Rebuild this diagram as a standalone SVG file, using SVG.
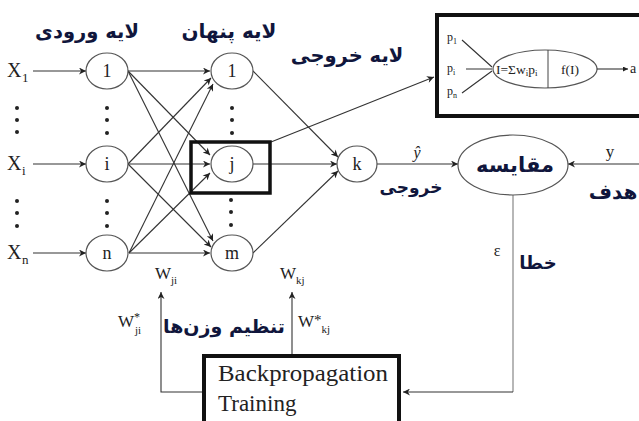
<svg xmlns="http://www.w3.org/2000/svg" width="639" height="421" viewBox="0 0 639 421">
<style>
.ser{font-family:"Liberation Serif","Times New Roman",serif;fill:#222}
.fa{font-family:"DejaVu Sans",sans-serif;font-weight:bold;fill:#10163c;direction:rtl}
.nd{fill:#fff;stroke:#555;stroke-width:1.2}
.ln{stroke:#333;stroke-width:1.1;fill:none}
.bx{fill:none;stroke:#111}
</style>
<defs>
<marker id="ah" viewBox="0 0 10 10" refX="10" refY="5" markerWidth="9" markerHeight="7" markerUnits="userSpaceOnUse" orient="auto">
<path d="M0,0 L10,5 L0,10 L3,5 Z" fill="#222"/>
</marker>
<marker id="as" viewBox="0 0 10 10" refX="10" refY="5" markerWidth="6" markerHeight="5" markerUnits="userSpaceOnUse" orient="auto">
<path d="M0,0 L10,5 L0,10 Z" fill="#222"/>
</marker>
</defs>
<rect width="639" height="421" fill="#fff"/>

<g id="connectors">
<path class="ln" d="M33,71 L86,71" marker-end="url(#ah)"/>
<path class="ln" d="M33,164 L86,164" marker-end="url(#ah)"/>
<path class="ln" d="M33,253 L86,253" marker-end="url(#ah)"/>
<path class="ln" d="M128,71 L210,71" marker-end="url(#ah)"/>
<path class="ln" d="M128,164 L211,78" marker-end="url(#ah)"/>
<path class="ln" d="M129,253 L213,84" marker-end="url(#ah)"/>
<path class="ln" d="M128,71 L210,155" marker-end="url(#ah)"/>
<path class="ln" d="M128,164 L210,164" marker-end="url(#ah)"/>
<path class="ln" d="M129,253 L210,173" marker-end="url(#ah)"/>
<path class="ln" d="M128,71 L213,241" marker-end="url(#ah)"/>
<path class="ln" d="M128,164 L211,247" marker-end="url(#ah)"/>
<path class="ln" d="M129,253 L210,253" marker-end="url(#ah)"/>
<path class="ln" d="M253,71 L338,157" marker-end="url(#ah)"/>
<path class="ln" d="M253,164 L337,164" marker-end="url(#ah)"/>
<path class="ln" d="M253,253 L338,171" marker-end="url(#ah)"/>
<path class="ln" d="M377,164 L458,164" marker-end="url(#ah)"/>
<path class="ln" d="M641,164 L568,164" marker-end="url(#ah)"/>
<path class="ln" d="M271,142 L434,77" marker-end="url(#ah)"/>
<path d="M513,195 L513,392" stroke="#999" stroke-width="1.4" fill="none"/>
<path class="ln" d="M513,392 L403,392" marker-end="url(#ah)"/>
<path class="ln" d="M204,392 L161,392 L161,292" marker-end="url(#ah)"/>
<path class="ln" d="M292,356 L292,292" marker-end="url(#ah)"/>
</g>

<g id="input-labels">
<text class="ser" x="7" y="77" font-size="20">X</text><text class="ser" x="22" y="82" font-size="13">1</text>
<text class="ser" x="7" y="170" font-size="20">X</text><text class="ser" x="22" y="175" font-size="13">i</text>
<text class="ser" x="7" y="259" font-size="20">X</text><text class="ser" x="22" y="264" font-size="13">n</text>
</g>

<g id="dots" fill="#222">
<circle cx="17" cy="108" r="2"/><circle cx="17" cy="120" r="2"/><circle cx="17" cy="132" r="2"/>
<circle cx="17" cy="201" r="2"/><circle cx="17" cy="213" r="2"/><circle cx="17" cy="226" r="2"/>
<circle cx="107" cy="108" r="2"/><circle cx="107" cy="120" r="2"/><circle cx="107" cy="133" r="2"/>
<circle cx="107" cy="201" r="2"/><circle cx="107" cy="213" r="2"/><circle cx="107" cy="226" r="2"/>
<circle cx="232" cy="108" r="2"/><circle cx="232" cy="120" r="2"/><circle cx="232" cy="133" r="2"/>
<circle cx="231" cy="200" r="2"/><circle cx="231" cy="212" r="2"/><circle cx="231" cy="225" r="2"/>
</g>

<g id="node-in1"><ellipse class="nd" cx="107" cy="71" rx="21" ry="18"/><text class="ser" x="107" y="77" font-size="18" text-anchor="middle">1</text></g>
<g id="node-ini"><ellipse class="nd" cx="107" cy="164" rx="21" ry="18"/><text class="ser" x="107" y="170" font-size="18" text-anchor="middle">i</text></g>
<g id="node-inn"><ellipse class="nd" cx="107" cy="253" rx="21" ry="18"/><text class="ser" x="107" y="259" font-size="18" text-anchor="middle">n</text></g>
<g id="node-h1"><ellipse class="nd" cx="232" cy="71" rx="21" ry="18"/><text class="ser" x="232" y="77" font-size="18" text-anchor="middle">1</text></g>
<g id="node-hj"><ellipse class="nd" cx="232" cy="164" rx="21" ry="18"/><text class="ser" x="232" y="170" font-size="18" text-anchor="middle">j</text></g>
<g id="node-hm"><ellipse class="nd" cx="232" cy="253" rx="21" ry="18"/><text class="ser" x="232" y="259" font-size="18" text-anchor="middle">m</text></g>
<g id="node-k"><ellipse class="nd" cx="357" cy="164" rx="20" ry="18"/><text class="ser" x="357" y="170" font-size="18" text-anchor="middle">k</text></g>

<g id="highlight-j"><rect class="bx" x="191" y="142" width="79" height="51" stroke-width="3.5"/></g>

<g id="node-compare"><ellipse class="nd" cx="513" cy="165" rx="55" ry="30"/><text class="fa" x="515" y="172" font-size="21" text-anchor="middle">مقایسه</text></g>

<g id="inset">
<rect class="bx" x="437" y="15" width="206" height="101" stroke-width="4"/>
<path class="ln" d="M462,40 L492,67 M466,69 L492,69 M462,93 L492,71" stroke-width="0.9"/>
<ellipse class="nd" cx="545" cy="69" rx="52" ry="19" stroke="#444"/>
<path d="M548,50 L548,88" stroke="#444" stroke-width="1"/>
<path class="ln" d="M597,69 L628,69" stroke-width="0.9" marker-end="url(#as)"/>
<text class="ser" x="447" y="41" font-size="12">p<tspan font-size="8" dy="3">1</tspan></text>
<text class="ser" x="447" y="72" font-size="12">p<tspan font-size="8" dy="3">i</tspan></text>
<text class="ser" x="447" y="95" font-size="12">p<tspan font-size="8" dy="3">n</tspan></text>
<text class="ser" x="496" y="74" font-size="13.5">I=Σw<tspan font-size="9" dy="2">i</tspan><tspan dy="-2">p</tspan><tspan font-size="9" dy="2">i</tspan></text>
<text class="ser" x="570" y="74" font-size="13.5" text-anchor="middle">f(I)</text>
<text class="ser" x="630" y="73" font-size="14">a</text>
</g>

<g id="backprop">
<rect class="bx" x="204" y="356" width="195" height="75" stroke-width="4"/>
<text class="ser" x="218" y="381" font-size="23" textLength="170" lengthAdjust="spacingAndGlyphs">Backpropagation</text>
<text class="ser" x="218" y="411" font-size="23">Training</text>
</g>

<g id="labels">
<text class="fa" x="87" y="38" font-size="19.5" text-anchor="middle">لایه ورودی</text>
<text class="fa" x="229" y="38" font-size="20" text-anchor="middle">لایه پنهان</text>
<text class="fa" x="347" y="62" font-size="19.5" text-anchor="middle">لایه خروجی</text>
<text class="fa" x="411" y="193" font-size="17" text-anchor="middle">خروجی</text>
<text class="fa" x="613" y="199" font-size="20" text-anchor="middle">هدف</text>
<text class="fa" x="538" y="269" font-size="18" text-anchor="middle">خطا</text>
<text class="fa" x="224" y="333" font-size="19" text-anchor="middle">تنظیم وزن‌ها</text>
<text class="ser" x="417" y="158" font-size="16" font-style="italic" text-anchor="middle">ŷ</text>
<text class="ser" x="610" y="157" font-size="17" text-anchor="middle">y</text>
<text class="ser" x="497" y="256" font-size="16" text-anchor="middle">ε</text>
<text class="ser" x="155" y="279" font-size="17">W<tspan font-size="11" dy="5">ji</tspan></text>
<text class="ser" x="280" y="279" font-size="17">W<tspan font-size="11" dy="5">kj</tspan></text>
<text class="ser" x="118" y="327" font-size="17">W<tspan font-size="12" dy="-6">*</tspan><tspan font-size="11" dx="-5" dy="13">ji</tspan></text>
<text class="ser" x="298" y="327" font-size="17">W<tspan font-size="15" dy="-2">*</tspan><tspan font-size="11" dy="8">kj</tspan></text>
</g>
</svg>
